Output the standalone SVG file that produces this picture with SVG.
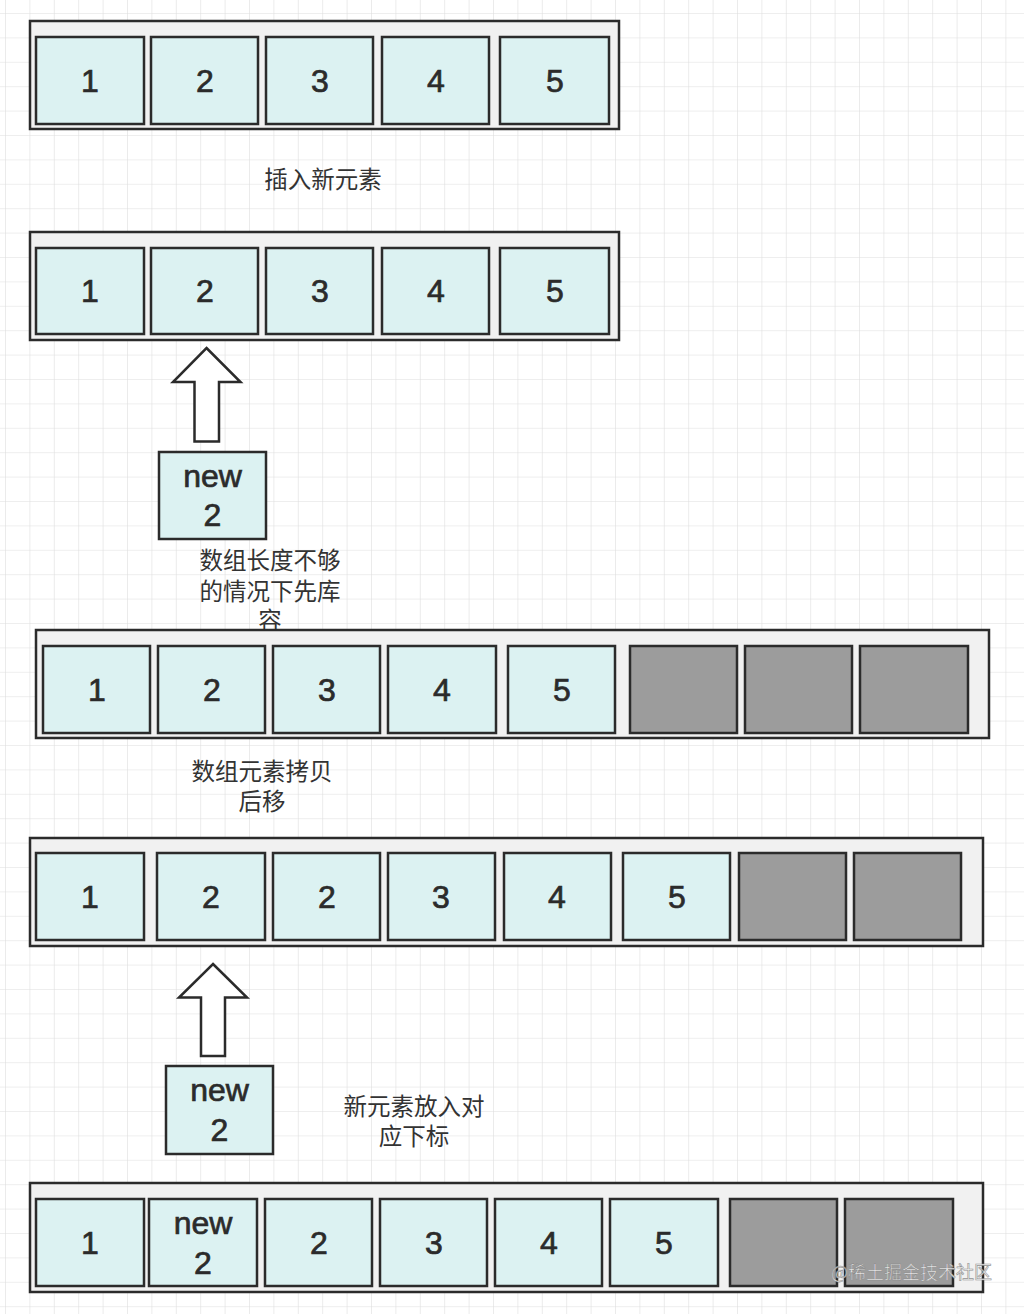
<svg xmlns="http://www.w3.org/2000/svg" width="1024" height="1314" viewBox="0 0 1024 1314">
<defs>
<pattern id="grid" x="5" y="13" width="24.4" height="24.4" patternUnits="userSpaceOnUse">
<path d="M0 0V24.4M0 0H24.4" fill="none" stroke="#dedede" stroke-width="1.2"/>
</pattern>
<style>
.outer{fill:#f1f1f1;stroke:#2b2b2b;stroke-width:2.5}
.cell{fill:#dcf2f2;stroke:#2b2b2b;stroke-width:2.5}
.gray{fill:#9c9c9c;stroke:#2b2b2b;stroke-width:2.5}
.num{font-family:"Liberation Sans",Arial,sans-serif;font-size:32px;fill:#2b2b2b;stroke:#2b2b2b;stroke-width:0.7;text-anchor:middle}
.lbl{font-family:"Liberation Sans","Noto Sans CJK SC",sans-serif;font-size:23.5px;fill:#333;text-anchor:middle}
.arrow{fill:#ffffff;stroke:#2b2b2b;stroke-width:2.5;stroke-linejoin:miter}
</style>
</defs>
<rect width="1024" height="1314" fill="#ffffff"/>
<rect width="1024" height="1314" fill="url(#grid)"/>

<g id="array1">
<rect class="outer" x="30" y="21" width="589" height="108"/>
<rect class="cell" x="36" y="37" width="108" height="87"/><text class="num" x="90" y="92">1</text>
<rect class="cell" x="151" y="37" width="107" height="87"/><text class="num" x="205" y="92">2</text>
<rect class="cell" x="266" y="37" width="107" height="87"/><text class="num" x="320" y="92">3</text>
<rect class="cell" x="382" y="37" width="107" height="87"/><text class="num" x="436" y="92">4</text>
<rect class="cell" x="500" y="37" width="109" height="87"/><text class="num" x="555" y="92">5</text>
</g>

<g id="label1"><text class="lbl" x="323" y="188">插入新元素</text></g>

<g id="array2">
<rect class="outer" x="30" y="232" width="589" height="108"/>
<rect class="cell" x="36" y="248" width="108" height="86"/><text class="num" x="90" y="302">1</text>
<rect class="cell" x="151" y="248" width="107" height="86"/><text class="num" x="205" y="302">2</text>
<rect class="cell" x="266" y="248" width="107" height="86"/><text class="num" x="320" y="302">3</text>
<rect class="cell" x="382" y="248" width="107" height="86"/><text class="num" x="436" y="302">4</text>
<rect class="cell" x="500" y="248" width="109" height="86"/><text class="num" x="555" y="302">5</text>
</g>

<g id="connectors">
<path class="arrow" d="M206.5 348 L240.5 382 L219 382 L219 441.5 L194.5 441.5 L194.5 382 L173 382 Z"/>
<path class="arrow" d="M213 964 L247 997.5 L225 997.5 L225 1056 L201 1056 L201 997.5 L179 997.5 Z"/>
</g>

<g id="new1">
<rect class="cell" x="159" y="452" width="107" height="87"/>
<text class="num" x="212.5" y="487">new</text>
<text class="num" x="212.5" y="526">2</text>
</g>

<g id="label2">
<text class="lbl" x="270" y="569">数组长度不够</text>
<text class="lbl" x="270" y="600">的情况下先库</text>
<text class="lbl" x="270" y="629">容</text>
</g>

<g id="array3">
<rect class="outer" x="36" y="630" width="953" height="108"/>
<rect class="cell" x="43" y="646" width="107" height="87"/><text class="num" x="97" y="701">1</text>
<rect class="cell" x="158" y="646" width="107" height="87"/><text class="num" x="212" y="701">2</text>
<rect class="cell" x="273" y="646" width="107" height="87"/><text class="num" x="327" y="701">3</text>
<rect class="cell" x="388" y="646" width="108" height="87"/><text class="num" x="442" y="701">4</text>
<rect class="cell" x="508" y="646" width="107" height="87"/><text class="num" x="562" y="701">5</text>
<rect class="gray" x="630" y="646" width="107" height="87"/>
<rect class="gray" x="745" y="646" width="107" height="87"/>
<rect class="gray" x="860" y="646" width="108" height="87"/>
</g>

<g id="label3">
<text class="lbl" x="262" y="780">数组元素拷贝</text>
<text class="lbl" x="262" y="810">后移</text>
</g>

<g id="array4">
<rect class="outer" x="30" y="838" width="953" height="108"/>
<rect class="cell" x="36" y="853" width="108" height="87"/><text class="num" x="90" y="908">1</text>
<rect class="cell" x="157" y="853" width="108" height="87"/><text class="num" x="211" y="908">2</text>
<rect class="cell" x="273" y="853" width="107" height="87"/><text class="num" x="327" y="908">2</text>
<rect class="cell" x="388" y="853" width="107" height="87"/><text class="num" x="441" y="908">3</text>
<rect class="cell" x="504" y="853" width="107" height="87"/><text class="num" x="557" y="908">4</text>
<rect class="cell" x="623" y="853" width="107" height="87"/><text class="num" x="677" y="908">5</text>
<rect class="gray" x="739" y="853" width="107" height="87"/>
<rect class="gray" x="854" y="853" width="107" height="87"/>
</g>

<g id="new2">
<rect class="cell" x="166" y="1066" width="107" height="88"/>
<text class="num" x="219.5" y="1101">new</text>
<text class="num" x="219.5" y="1141">2</text>
</g>

<g id="label4">
<text class="lbl" x="414" y="1115">新元素放入对</text>
<text class="lbl" x="414" y="1145">应下标</text>
</g>

<g id="array5">
<rect class="outer" x="30" y="1183" width="953" height="109"/>
<rect class="cell" x="36" y="1199" width="108" height="87"/><text class="num" x="90" y="1254">1</text>
<rect class="cell" x="149" y="1199" width="108" height="87"/>
<text class="num" x="203" y="1234">new</text><text class="num" x="203" y="1274">2</text>
<rect class="cell" x="265" y="1199" width="107" height="87"/><text class="num" x="319" y="1254">2</text>
<rect class="cell" x="380" y="1199" width="107" height="87"/><text class="num" x="434" y="1254">3</text>
<rect class="cell" x="495" y="1199" width="107" height="87"/><text class="num" x="549" y="1254">4</text>
<rect class="cell" x="610" y="1199" width="108" height="87"/><text class="num" x="664" y="1254">5</text>
<rect class="gray" x="730" y="1199" width="107" height="87"/>
<rect class="gray" x="845" y="1199" width="108" height="87"/>
</g>

<g id="watermark">
<text x="831" y="1279" font-family="'Noto Sans CJK SC',sans-serif" font-size="18" fill="#f4f4f4" stroke="#8a8a8a" stroke-width="0.6" opacity="0.9">@稀土掘金技术社区</text>
</g>
</svg>
